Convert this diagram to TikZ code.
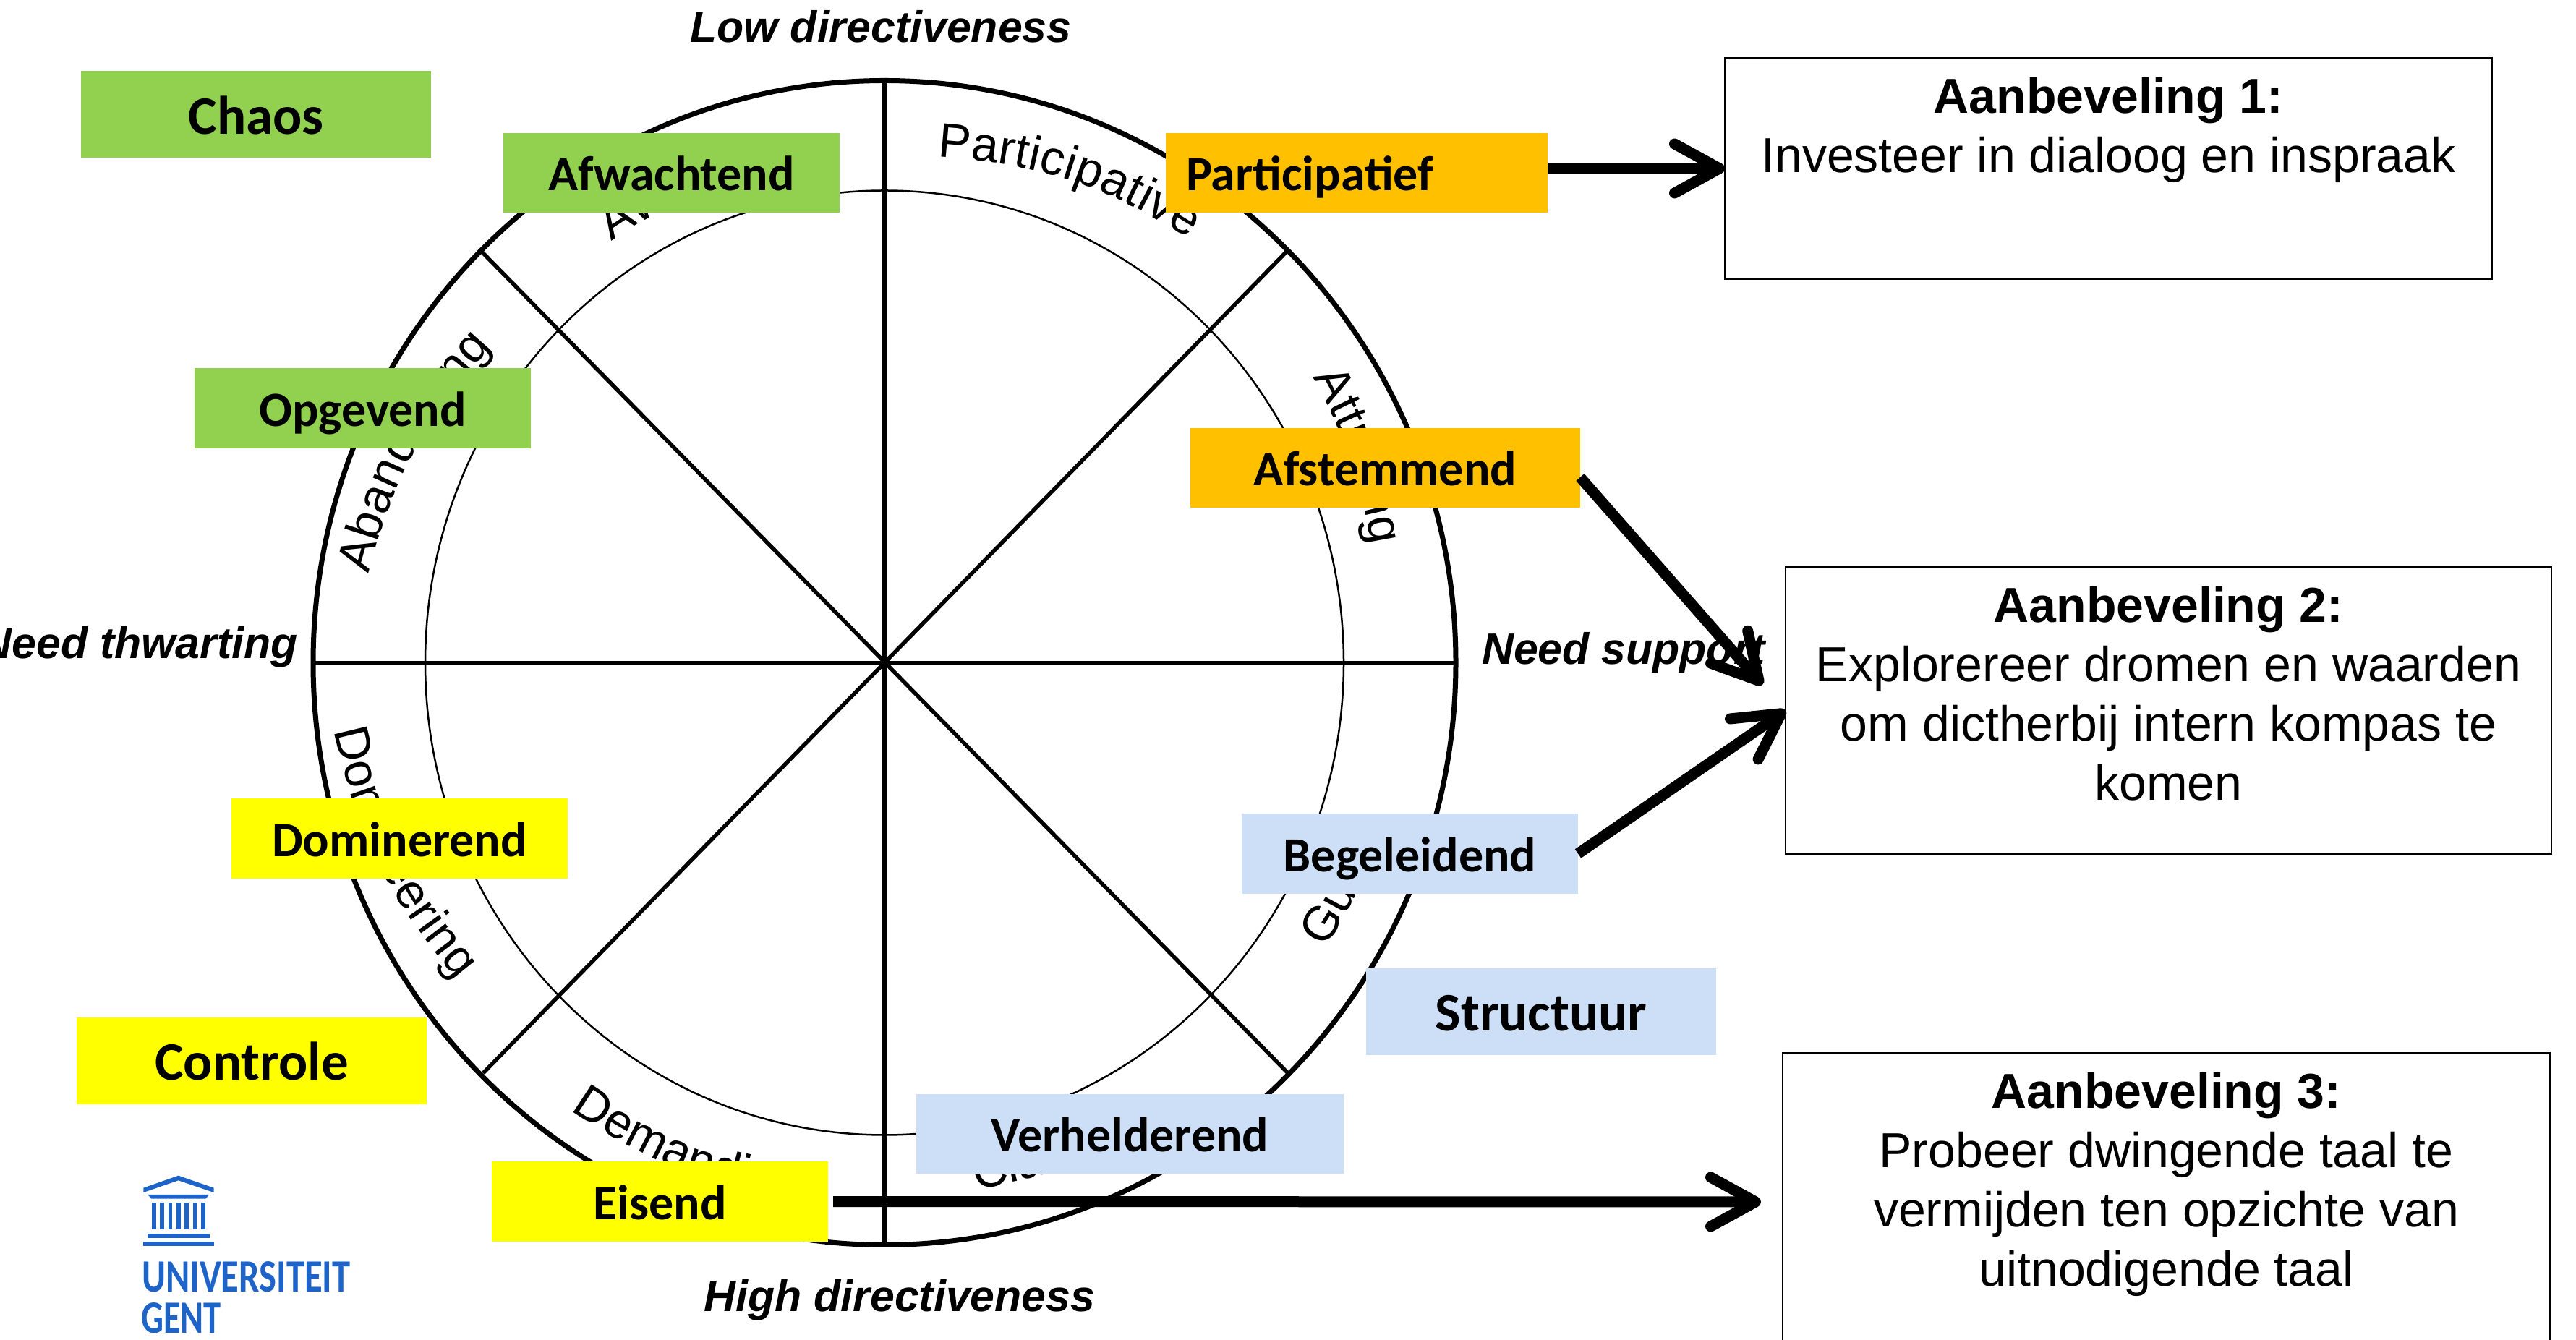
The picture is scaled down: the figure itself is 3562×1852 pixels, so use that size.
\documentclass[tikz,border=0pt]{standalone}
\usepackage{fontspec}
\setmainfont{Liberation Sans}
\newfontfamily\calfont{Carlito}
\newfontfamily\ugfont[FakeStretch=0.79]{Carlito}
\newfontfamily\ugshort[FakeStretch=0.76]{Carlito}
\usetikzlibrary{arrows.meta,decorations.text}
\definecolor{cgreen}{HTML}{92D050}
\definecolor{corange}{HTML}{FFC000}
\definecolor{cyellow}{HTML}{FFFF00}
\definecolor{cblue}{HTML}{CDDFF7}
\definecolor{ugblue}{HTML}{1E64C8}
\newcommand\ringfont{\fontsize{67}{67}\selectfont}
\newcommand\recfont{\fontsize{68}{82}\selectfont}
\newcommand\rechead[1]{\rule{0pt}{77pt}{\fontsize{68}{82}\selectfont\bfseries #1}}
\tikzset{
  x=1pt,y=1pt,
  outerring/.style={line width=7pt},
  innerring/.style={line width=2.5pt},
  spoke/.style={line width=5.5pt},
  ringlabel/.style={decorate,decoration={text along path,text={|\ringfont|#1},text align={fit to path}}},
  tag/.style={inner sep=0pt,outer sep=0pt,text=black,font=\calfont\bfseries\fontsize{68}{68}\selectfont,minimum height=110pt,text height=50pt,text depth=0pt},
  bigtag/.style={tag,font=\calfont\bfseries\fontsize{75}{75}\selectfont,minimum width=484pt,minimum height=120pt,text height=54pt},
  axislabel/.style={inner sep=0pt,font=\bfseries\itshape\fontsize{60.8}{60.8}\selectfont},
  recbox/.style={draw=black,line width=2.5pt,fill=white,inner sep=0pt,outer sep=0pt},
  bigarrow/.style={line width=15pt,-{Straight Barb[length=62pt,width=68pt,round]}},
}
\begin{document}
\begin{tikzpicture}
\useasboundingbox (0,0) rectangle (3562,1852);
\clip (0,0) rectangle (3562,1852);
\coordinate (c) at (1223,935.5);
% wheel
\draw[outerring] (c) ellipse [x radius=790pt,y radius=805pt];
\draw[innerring] (c) ellipse [x radius=635pt,y radius=653pt];
\coordinate (top) at (1223,1741);
\coordinate (bot) at (1223,131);
\coordinate (lft) at (433,935.5);
\coordinate (rgt) at (2013,935.5);
\coordinate (d1) at (666,1504);
\coordinate (d2) at (1780,369);
\coordinate (d3) at (1779,1504);
\coordinate (d4) at (668,368);
\draw[spoke] (top) -- (bot);
\draw[spoke] (lft) -- (rgt);
\draw[spoke] (d1) -- (d2);
\draw[spoke] (d3) -- (d4);
% ring texts
\path[ringlabel={Participative}] (1296,1635) to[bend left=14] (1644,1522);
\path[ringlabel={Attuning}] (1815,1330) to[bend left=9.7] (1896,1098);
\path[ringlabel={Abandoning}] (510,1058) to[bend left=14] (680,1372);
\path[ringlabel={Awaiting}] (846,1518) to[bend left=9.9] (1066,1618);
\path[ringlabel={Demanding}] (789,317) to[bend right=12.5] (1095,195);
\path[ringlabel={Clarifying}] (1349,207) to[bend right=10.3] (1598,298);
\path[ringlabel={Guiding}] (1832,541) to[bend right=8.6] (1920,732);
\path[ringlabel={Domineering}] (462,842) to[bend right=13.7] (632,497);
% tags
\node[bigtag,fill=cgreen] (chaos) at (354,1693.5) {Chaos};
\node[tag,fill=cgreen,minimum width=465pt] (afw) at (928.5,1613) {Afwachtend};
\node[tag,fill=corange,text width=472pt,align=left,inner xsep=28pt] (part) at (1876,1613) {Participatief};
\node[tag,fill=corange,minimum width=539pt] (afst) at (1915.5,1205) {Afstemmend};
\node[tag,fill=cgreen,minimum width=465pt,minimum height=111pt] (opg) at (501.5,1287.5) {Opgevend};
\node[tag,fill=cyellow,minimum width=465pt,minimum height=111pt] (dom) at (552.5,692.5) {Dominerend};
\node[bigtag,fill=cyellow] (contr) at (348,385) {Controle};
\node[tag,fill=cyellow,minimum width=465pt,minimum height=111pt] (eis) at (912.5,190.5) {Eisend};
\node[tag,fill=cblue,minimum width=465pt,minimum height=111pt] (beg) at (1949.5,671.5) {Begeleidend};
\node[bigtag,fill=cblue] (struct) at (2131,453) {Structuur};
\node[tag,fill=cblue,minimum width=591pt] (verh) at (1562.5,284) {Verhelderend};
% axis labels
\node[axislabel] (low) at (1218,1815) {Low directiveness};
\node[axislabel] (high) at (1244,54) {High directiveness};
\node[axislabel,anchor=east] (thw) at (412,957) {Need thwarting};
\node[axislabel] (sup) at (2245,949) {Need support};
% recommendation boxes
\node[recbox] (rec1) at (2915.5,1619) {\parbox[c][306pt][t]{1061pt}{\centering\recfont\rechead{Aanbeveling 1:}\\Investeer in dialoog en inspraak}};
\node[recbox] (rec2) at (2998.5,869.5) {\parbox[c][397pt][t]{1059pt}{\centering\recfont\rechead{Aanbeveling 2:}\\Explorereer dromen en waarden\\om dictherbij intern kompas te\\komen}};
\node[recbox] (rec3) at (2995.5,174) {\parbox[c][444pt][t]{1061pt}{\centering\recfont\rechead{Aanbeveling 3:}\\Probeer dwingende taal te\\vermijden ten opzichte van\\uitnodigende taal}};
% connectors
\coordinate (afstout) at (2185,1192);
\coordinate (tipa) at (2437,905);
\coordinate (tipc) at (2435,190);
\draw[bigarrow] (part.east |- rec1.west) -- (rec1.west);
\draw[bigarrow] (afstout) -- (tipa);
\draw[bigarrow] (beg.east) -- (rec2.west);
\draw[bigarrow,shorten <=7pt] (eis.east) -- (tipc);
% logo
\begin{scope}[shift={(150,252)},x=0.33333pt,y=-0.33333pt,fill=ugblue]
\fill (145,128) -- (290,77) -- (437,128) -- (437,147) -- (290,97) -- (145,147) -- cycle;
\fill (163,156) -- (418,156) -- (403,173) -- (178,173) -- cycle;
\foreach \cx in {180,214,248,282,316,350,385} {\fill (\cx,190) rectangle (\cx+17,300);}
\fill (162,318) rectangle (420,336);
\fill (145,352) rectangle (437,370);
\end{scope}
\node[anchor=base west,inner sep=0pt,text=ugblue,font=\ugfont\bfseries\fontsize{64}{64}\selectfont] (ug1) at (196,65) {UNIVERSITEIT};
\node[anchor=base west,inner sep=0pt,text=ugblue,font=\ugshort\bfseries\fontsize{64}{64}\selectfont] (ug2) at (195,9) {GENT};
\end{tikzpicture}
\end{document}
